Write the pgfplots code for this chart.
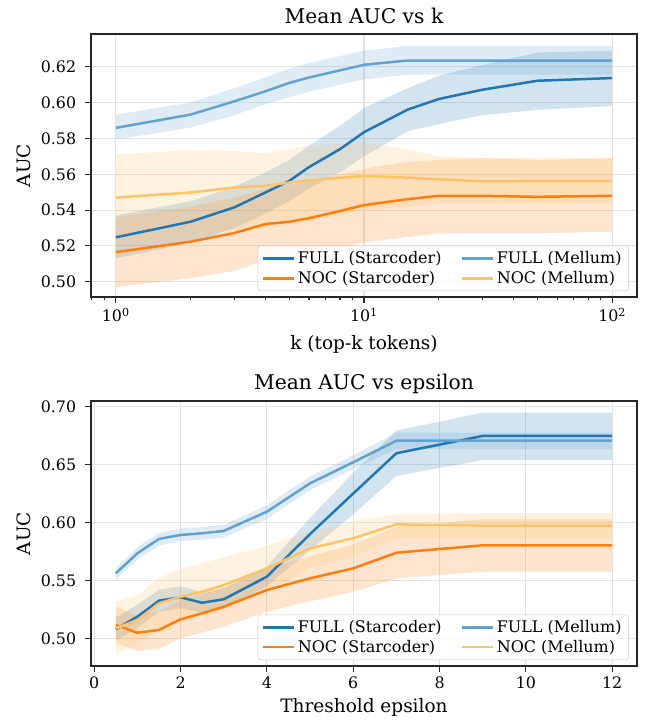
\documentclass[border=0pt]{standalone}
\usepackage{fontspec}
\setmainfont{DejaVu Serif}
\usepackage{pgfplots}
\pgfplotsset{compat=1.18}
\usepackage{pgfplotstable}
\usepgfplotslibrary{fillbetween}

\definecolor{cFS}{RGB}{31,119,180}
\definecolor{cNS}{RGB}{255,127,14}
\definecolor{cFM}{RGB}{98,162,206}
\definecolor{cNM}{RGB}{255,196,102}

\pgfplotstableread{
k   fs     fslo   fshi   ns     nslo   nshi   fm     fmlo   fmhi   nm     nmlo   nmhi
1   0.5248 0.5130 0.5370 0.5165 0.4970 0.5360 0.5859 0.5794 0.5933 0.5470 0.5220 0.5711
2   0.5335 0.5220 0.5450 0.5224 0.5020 0.5420 0.5933 0.5860 0.6000 0.5498 0.5260 0.5735
3   0.5415 0.5300 0.5530 0.5272 0.5060 0.5470 0.6007 0.5930 0.6080 0.5526 0.5290 0.5730
4   0.5498 0.5380 0.5610 0.5322 0.5120 0.5520 0.6063 0.5990 0.6140 0.5535 0.5300 0.5717
5   0.5563 0.5450 0.5680 0.5335 0.5140 0.5540 0.6110 0.6030 0.6190 0.5554 0.5320 0.5740
6   0.5640 0.5520 0.5760 0.5355 0.5160 0.5560 0.6140 0.6060 0.6220 0.5565 0.5340 0.5760
8   0.5740 0.5610 0.5870 0.5395 0.5190 0.5600 0.6180 0.6100 0.6260 0.5580 0.5370 0.5770
10  0.5835 0.5700 0.5970 0.5428 0.5220 0.5630 0.6211 0.6130 0.6290 0.5591 0.5400 0.5776
15  0.5961 0.5840 0.6080 0.5461 0.5250 0.5670 0.6235 0.6156 0.6317 0.5581 0.5420 0.5740
20  0.6020 0.5880 0.6150 0.5480 0.5270 0.5680 0.6235 0.6156 0.6317 0.5572 0.5440 0.5700
30  0.6072 0.5930 0.6210 0.5480 0.5270 0.5690 0.6235 0.6156 0.6317 0.5561 0.5440 0.5690
50  0.6122 0.5960 0.6280 0.5474 0.5270 0.5680 0.6235 0.6156 0.6317 0.5563 0.5440 0.5690
100 0.6137 0.5980 0.6290 0.5480 0.5280 0.5690 0.6235 0.6156 0.6317 0.5563 0.5440 0.5690
}\topdata

\pgfplotstableread{
e   fs     fslo   fshi   ns     nslo   nshi   fm     fmlo   fmhi   nm     nmlo   nmhi
0.5 0.5078 0.4980 0.5180 0.5115 0.4960 0.5270 0.5561 0.5510 0.5610 0.5086 0.4870 0.5316
1   0.5187 0.5090 0.5290 0.5048 0.4890 0.5200 0.5734 0.5680 0.5790 0.5158 0.4940 0.5370
1.5 0.5325 0.5230 0.5420 0.5072 0.4910 0.5230 0.5858 0.5800 0.5910 0.5302 0.5090 0.5520
2   0.5354 0.5260 0.5450 0.5164 0.5000 0.5330 0.5892 0.5840 0.5950 0.5359 0.5150 0.5600
2.5 0.5307 0.5220 0.5400 0.5216 0.5050 0.5380 0.5907 0.5850 0.5960 0.5402 0.5190 0.5650
3   0.5337 0.5250 0.5430 0.5273 0.5100 0.5440 0.5927 0.5870 0.5980 0.5460 0.5250 0.5700
4   0.5532 0.5450 0.5620 0.5417 0.5230 0.5600 0.6093 0.6030 0.6150 0.5604 0.5400 0.5800
5   0.5900 0.5760 0.6040 0.5518 0.5320 0.5710 0.6338 0.6280 0.6400 0.5777 0.5610 0.5920
6   0.6250 0.6070 0.6430 0.5604 0.5400 0.5810 0.6520 0.6460 0.6580 0.5864 0.5710 0.6010
7   0.6598 0.6402 0.6793 0.5739 0.5518 0.5960 0.6706 0.6635 0.6777 0.5984 0.5870 0.6073
9   0.6747 0.6540 0.6948 0.5803 0.5575 0.6028 0.6706 0.6632 0.6776 0.5973 0.5864 0.6080
12  0.6747 0.6540 0.6948 0.5803 0.5575 0.6028 0.6706 0.6632 0.6776 0.5973 0.5864 0.6080
}\botdata

\pgfplotsset{
  mystyle/.style={
    scale only axis,
    width=393.12pt,
    axis line style={line width=0.8pt, black!85},
    tick style={line width=0.8pt, black!85},
    tick align=outside,
    major tick length=4.3pt,
    minor tick length=2.5pt,
    xtick pos=lower, ytick pos=left,
    grid=major,
    major grid style={line width=0.8pt, black!11},
    tick label style={font=\fontsize{11.4}{13}\selectfont},
    yticklabel style={xshift=-2.9pt},
    label style={font=\fontsize{13.3}{15}\selectfont},
    every axis title/.style={at={(0.5,1)}, anchor=base, yshift=7.4pt, font=\fontsize{14.6}{17}\selectfont},
    every axis y label/.style={at={(axis description cs:-0.1227,0.5)}, rotate=90, anchor=center, font=\fontsize{13.3}{15}\selectfont},
    /pgf/number format/assume math mode=true,
    yticklabel style={/pgf/number format/.cd, fixed, fixed zerofill, precision=2},
    legend style={at={(0.985,0.022)}, anchor=south east, draw=black!20, rounded corners=2pt,
      fill=white, fill opacity=0.8, text opacity=1, font=\fontsize{11.5}{13}\selectfont,
      /tikz/every even column/.append style={column sep=12pt}},
    legend columns=2,
    legend cell align=left,
    legend image code/.code={\draw[#1, line width=1.8pt] (0pt,0pt) -- (22pt,0pt);},
    every axis plot/.append style={line width=1.8pt},
  }
}

\begin{document}
\begin{tikzpicture}

\begin{axis}[mystyle,
  at={(65.52pt,307.44pt)}, anchor=south west,
  height=189.36pt,
  xmode=log, log basis x=10,
  xmin=0.7943, xmax=125.89,
  ymin=0.4915, ymax=0.6383,
  xtick={1,10,100},
  xticklabels={10\textsuperscript{0},10\textsuperscript{1},10\textsuperscript{2}},
  minor xtick={0.8,0.9,2,3,4,5,6,7,8,9,20,30,40,50,60,70,80,90},
  ytick={0.50,0.52,0.54,0.56,0.58,0.60,0.62},
  title={Mean AUC vs k},
  xlabel={k (top-k tokens)},
  xlabel style={at={(axis description cs:0.5,-0.1806)}, anchor=center},
  ylabel={AUC},
]
\addplot[name path=fsl, draw=none, forget plot] table[x=k,y=fslo]{\topdata};
\addplot[name path=fsh, draw=none, forget plot] table[x=k,y=fshi]{\topdata};
\addplot[fill=cFS, fill opacity=0.2, draw=none, forget plot] fill between[of=fsl and fsh];
\addplot[name path=nsl, draw=none, forget plot] table[x=k,y=nslo]{\topdata};
\addplot[name path=nsh, draw=none, forget plot] table[x=k,y=nshi]{\topdata};
\addplot[fill=cNS, fill opacity=0.2, draw=none, forget plot] fill between[of=nsl and nsh];
\addplot[name path=fml, draw=none, forget plot] table[x=k,y=fmlo]{\topdata};
\addplot[name path=fmh, draw=none, forget plot] table[x=k,y=fmhi]{\topdata};
\addplot[fill=cFM, fill opacity=0.2, draw=none, forget plot] fill between[of=fml and fmh];
\addplot[name path=nml, draw=none, forget plot] table[x=k,y=nmlo]{\topdata};
\addplot[name path=nmh, draw=none, forget plot] table[x=k,y=nmhi]{\topdata};
\addplot[fill=cNM, fill opacity=0.2, draw=none, forget plot] fill between[of=nml and nmh];
\addplot[cFS, forget plot] table[x=k,y=fs]{\topdata};
\addplot[cNS, forget plot] table[x=k,y=ns]{\topdata};
\addplot[cFM, forget plot] table[x=k,y=fm]{\topdata};
\addplot[cNM, forget plot] table[x=k,y=nm]{\topdata};
\addlegendimage{cFS}\addlegendentry{FULL (Starcoder)}
\addlegendimage{cFM}\addlegendentry{FULL (Mellum)}
\addlegendimage{cNS}\addlegendentry{NOC (Starcoder)}
\addlegendimage{cNM}\addlegendentry{NOC (Mellum)}
\end{axis}

\begin{axis}[mystyle,
  at={(65.52pt,41.76pt)}, anchor=south west,
  height=190.8pt,
  xmin=-0.075, xmax=12.575,
  ymin=0.4761, ymax=0.7049,
  xtick={0,2,4,6,8,10,12},
  ytick={0.50,0.55,0.60,0.65,0.70},
  title={Mean AUC vs epsilon},
  title style={yshift=0.6pt},
  xlabel={Threshold epsilon},
  xlabel style={at={(axis description cs:0.5,-0.1566)}, anchor=center},
  ylabel={AUC},
]
\addplot[name path=fsl, draw=none, forget plot] table[x=e,y=fslo]{\botdata};
\addplot[name path=fsh, draw=none, forget plot] table[x=e,y=fshi]{\botdata};
\addplot[fill=cFS, fill opacity=0.2, draw=none, forget plot] fill between[of=fsl and fsh];
\addplot[name path=nsl, draw=none, forget plot] table[x=e,y=nslo]{\botdata};
\addplot[name path=nsh, draw=none, forget plot] table[x=e,y=nshi]{\botdata};
\addplot[fill=cNS, fill opacity=0.2, draw=none, forget plot] fill between[of=nsl and nsh];
\addplot[name path=fml, draw=none, forget plot] table[x=e,y=fmlo]{\botdata};
\addplot[name path=fmh, draw=none, forget plot] table[x=e,y=fmhi]{\botdata};
\addplot[fill=cFM, fill opacity=0.2, draw=none, forget plot] fill between[of=fml and fmh];
\addplot[name path=nml, draw=none, forget plot] table[x=e,y=nmlo]{\botdata};
\addplot[name path=nmh, draw=none, forget plot] table[x=e,y=nmhi]{\botdata};
\addplot[fill=cNM, fill opacity=0.2, draw=none, forget plot] fill between[of=nml and nmh];
\addplot[cFS, forget plot] table[x=e,y=fs]{\botdata};
\addplot[cNS, forget plot] table[x=e,y=ns]{\botdata};
\addplot[cFM, forget plot] table[x=e,y=fm]{\botdata};
\addplot[cNM, forget plot] table[x=e,y=nm]{\botdata};
\addlegendimage{cFS}\addlegendentry{FULL (Starcoder)}
\addlegendimage{cFM}\addlegendentry{FULL (Mellum)}
\addlegendimage{cNS}\addlegendentry{NOC (Starcoder)}
\addlegendimage{cNM}\addlegendentry{NOC (Mellum)}
\end{axis}
\pgfresetboundingbox
\useasboundingbox (0,0) rectangle (465.12pt,521.28pt);
\end{tikzpicture}
\end{document}
